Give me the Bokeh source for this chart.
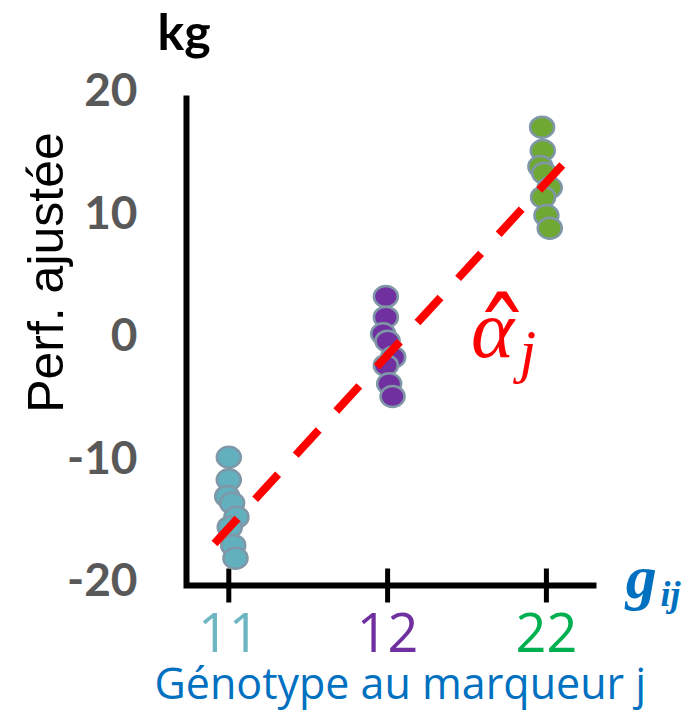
from bokeh.plotting import figure
from bokeh.models import Range1d
from bokeh.embed import file_html
from bokeh.resources import INLINE
from bokeh.core.properties import value
import numpy as np

# ---- data ----
genotypes = ["11", "12", "22"]
genotype_pos = [0, 1, 2]

g11_y = [-9.53, -11.37, -12.73, -13.28, -14.42, -15.24, -16.73, -17.77]
g11_dx = [0.000, 0.000, -0.010, 0.021, 0.048, 0.006, 0.028, 0.042]
g12_y = [3.59, 1.90, 0.55, -0.06, -1.36, -2.04, -3.53, -4.57]
g12_dx = [-0.011, -0.011, -0.028, 0.000, 0.035, -0.011, 0.010, 0.031]
g22_y = [17.41, 15.51, 14.20, 13.66, 12.47, 11.70, 10.20, 9.17]
g22_dx = [-0.027, -0.023, -0.038, -0.013, 0.021, -0.021, 0.000, 0.021]

fit_x = [-0.090, 2.110]
fit_y = [-16.57, 14.47]

y_ticks = [-20, -10, 0, 10, 20]
y_tick_labels = ["-20", "-10", "0", "10", "20"]

# axis extent (data units)
y_min, y_max = -20, 20
x_axis_lo, x_axis_hi = -0.2664, 2.3155

dot_fill = ["#62AFBE", "#7030A0", "#6FA832"]
label_color = ["#6DB6C1", "#7030A0", "#00B050"]
dot_line = "#7F97A7"

# frame covers the whole canvas: px = 228.3 + 158.8*x ; py = 340 - 12.25*y
p = figure(width=700, height=712, output_backend="svg", toolbar_location=None,
           x_range=Range1d(-228.3 / 158.8, (700 - 228.3) / 158.8),
           y_range=Range1d((340 - 712) / 12.25, 340 / 12.25),
           min_border=0)
p.axis.visible = False
p.grid.visible = False
p.outline_line_color = None
p.background_fill_color = "white"
p.border_fill_color = "white"

# axes (L shape)
p.line([x_axis_lo, x_axis_lo, x_axis_hi], [y_max, y_min, y_min],
       line_color="black", line_width=6, line_join="miter")
tick_half = 17 / 12.25
p.segment(x0=genotype_pos, y0=[y_min + tick_half] * 3, x1=genotype_pos,
          y1=[y_min - tick_half] * 3, line_color="black", line_width=5)

# y tick labels
p.text(x=[-0.575] * len(y_ticks), y=y_ticks, text=y_tick_labels, y_offset=-6,
       text_align="right", text_baseline="middle", text_font=value("Lato"),
       text_font_style="bold", text_font_size="46px", text_color="#595959")

# points
groups = [(g11_dx, g11_y), (g12_dx, g12_y), (g22_dx, g22_y)]
for gi, (dx, ys) in enumerate(groups):
    xs = [genotype_pos[gi] + d for d in dx]
    p.ellipse(x=xs, y=ys, width=24, height=21, width_units="screen", height_units="screen",
              fill_color=dot_fill[gi], line_color=dot_line, line_width=2.5)

# fitted effect line
p.line(fit_x, fit_y, line_color="#FF0000", line_width=8, line_dash="34 26", line_cap="butt")

# colored genotype tick labels
p.text(x=genotype_pos, y=[-23.84] * 3, text=genotypes, text_align="center",
       text_baseline="alphabetic", text_font=value("Open Sans"),
       text_font_size="54px", text_color=label_color)

p.text(x=[1.08], y=[-27.93], text=["Génotype au marqueur j"], text_align="center",
       text_baseline="alphabetic", text_font=value("Open Sans"),
       text_font_size="43px", text_color="#0070C0")

p.text(x=[-0.449], y=[25.30], text=["kg"], text_align="left",
       text_baseline="alphabetic", text_font=value("Lato"), text_font_style="bold",
       text_font_size="50px", text_color="black")

p.text(x=[-1.154], y=[5.55], text=["Perf. ajustée"], angle=np.pi / 2,
       text_align="center", text_baseline="middle",
       text_font=value("Liberation Sans"), text_font_size="50px", text_color="black")

# g_ij
p.text(x=[2.499], y=[-19.27], text=["g"], text_align="left", text_baseline="alphabetic",
       text_font=value("Liberation Serif"), text_font_style="bold italic",
       text_font_size="62px", text_color="#0070C0")
p.text(x=[2.718], y=[-20.73], text=["ij"], text_align="left", text_baseline="alphabetic",
       text_font=value("Liberation Serif"), text_font_style="bold italic",
       text_font_size="36px", text_color="#0070C0")

# alpha hat j
p.text(x=[1.525], y=[0.90], text=["α"], text_align="left", text_baseline="alphabetic",
       text_font=value("Liberation Serif"), text_font_style="italic",
       text_font_size="82px", text_color="#FF0000")
p.text(x=[1.72], y=[-0.12], text=["ˆ"], text_align="center", text_baseline="alphabetic",
       text_font=value("DejaVu Serif"),
       text_font_size="110px", text_color="#FF0000")
p.text(x=[1.83], y=[-0.886], text=["j"], text_align="left", text_baseline="alphabetic",
       text_font=value("Liberation Serif"), text_font_style="italic",
       text_font_size="60px", text_color="#FF0000")

open("out.html", "w").write(file_html(p, INLINE))
